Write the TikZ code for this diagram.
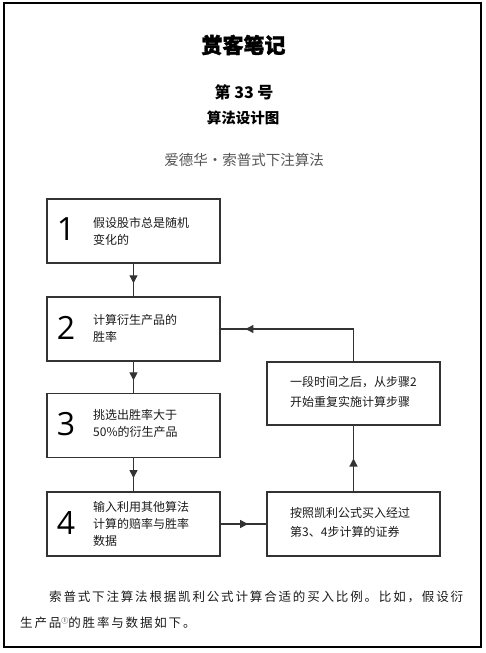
\documentclass[tikz,border=0pt]{standalone}
\usepackage{fontspec}
\setmainfont{Liberation Sans}
\newfontfamily\cjk{Noto Sans CJK SC}
\newfontfamily\cjkheavy{Noto Sans CJK SC}[BoldFeatures={FakeBold=1.6}]
\newfontfamily\cjkspaced{Noto Sans CJK SC}[LetterSpace=14.7]
\newfontfamily\numfont{Open Sans}
\usetikzlibrary{arrows.meta,decorations.markings}
\definecolor{linegray}{HTML}{333333}
\definecolor{txtdark}{HTML}{1A1A1A}
\definecolor{subgray}{HTML}{555555}
\tikzset{
  stepbox/.style={draw=linegray, line width=1.4pt, minimum width=173pt, minimum height=64pt, inner sep=0pt},
  bignum/.style={font=\numfont\fontsize{32}{32}\selectfont, inner sep=0pt, text=black},
  boxtxt/.style={font=\cjk\fontsize{12}{17}\selectfont, align=left, anchor=west, inner sep=0pt, text=txtdark},
  flow/.style={draw=linegray, line width=1.2pt, postaction={decorate},
    decoration={markings, mark=at position #1 with {\arrow{Triangle[length=8pt,width=8pt]}}}},
  flow/.default=0.55
}
\begin{document}
\begin{tikzpicture}[x=1pt,y=-1pt]
\useasboundingbox (0,0) rectangle (486,653);
\draw[line width=1.3pt, black] (4,3) rectangle (481,647);

% header
\node[font=\cjkheavy\bfseries\fontsize{21}{21}\selectfont] (title) at (243.5,45) {赏客笔记};
\node[font=\cjk\bfseries\fontsize{16}{16}\selectfont] (issue) at (244,92) {第 33 号};
\node[font=\cjk\bfseries\fontsize{14.5}{14.5}\selectfont] (sub) at (243,118) {算法设计图};
\node[font=\cjk\fontsize{14.5}{14.5}\selectfont, text=subgray] (algo) at (244,160) {爱德华·索普式下注算法};

% left column
\node[stepbox] (b1) at (133.5,231) {};
\node[stepbox] (b2) at (133.5,329) {};
\node[stepbox] (b3) at (133.5,425.5) {};
\node[stepbox] (b4) at (133.5,524) {};
% right column
\node[stepbox, minimum height=63pt] (rt) at (353.5,393.5) {};
\node[stepbox] (rb) at (353.5,524) {};

\node[bignum] (n1) at (66,229.5) {1};
\node[bignum] (n2) at (66,328) {2};
\node[bignum] (n3) at (66,424) {3};
\node[bignum] (n4) at (66,523) {4};

\node[boxtxt] (t1) at (93,231.5) {假设股市总是随机\\变化的};
\node[boxtxt] (t2) at (93,328.5) {计算衍生产品的\\胜率};
\node[boxtxt] (t3) at (93,423.5) {挑选出胜率大于\\50\%的衍生产品};
\node[boxtxt] (t4) at (93,524) {输入利用其他算法\\计算的赔率与胜率\\数据};
\node[boxtxt, font=\cjk\fontsize{12}{20}\selectfont] (t5) at (290,392) {一段时间之后，从步骤2\\开始重复实施计算步骤};
\node[boxtxt, font=\cjk\fontsize{12}{19}\selectfont] (t6) at (290,522.5) {按照凯利公式买入经过\\第3、4步计算的证券};

% connectors
\draw[flow=0.6] (b1) -- (b2);
\draw[flow=0.6] (b2) -- (b3);
\draw[flow=0.6] (b3) -- (b4);
\draw[flow=0.6] (b4) -- (rb);
\draw[flow=0.5] (rb) -- (rt);
\draw[flow=0.85] (rt.north) |- (b2.east);

% paragraph
\node[font=\cjkspaced\fontsize{12.5}{12.5}\selectfont, anchor=west, inner sep=0pt, text=txtdark] (p1) at (49,597) {索普式下注算法根据凯利公式计算合适的买入比例。比如，假设衍};
\node[font=\cjkspaced\fontsize{12.5}{12.5}\selectfont, anchor=west, inner sep=0pt, text=txtdark] (p2) at (20,623) {生产品\raisebox{4pt}{\fontsize{7}{7}\selectfont ①}的胜率与数据如下。};
\end{tikzpicture}
\end{document}
